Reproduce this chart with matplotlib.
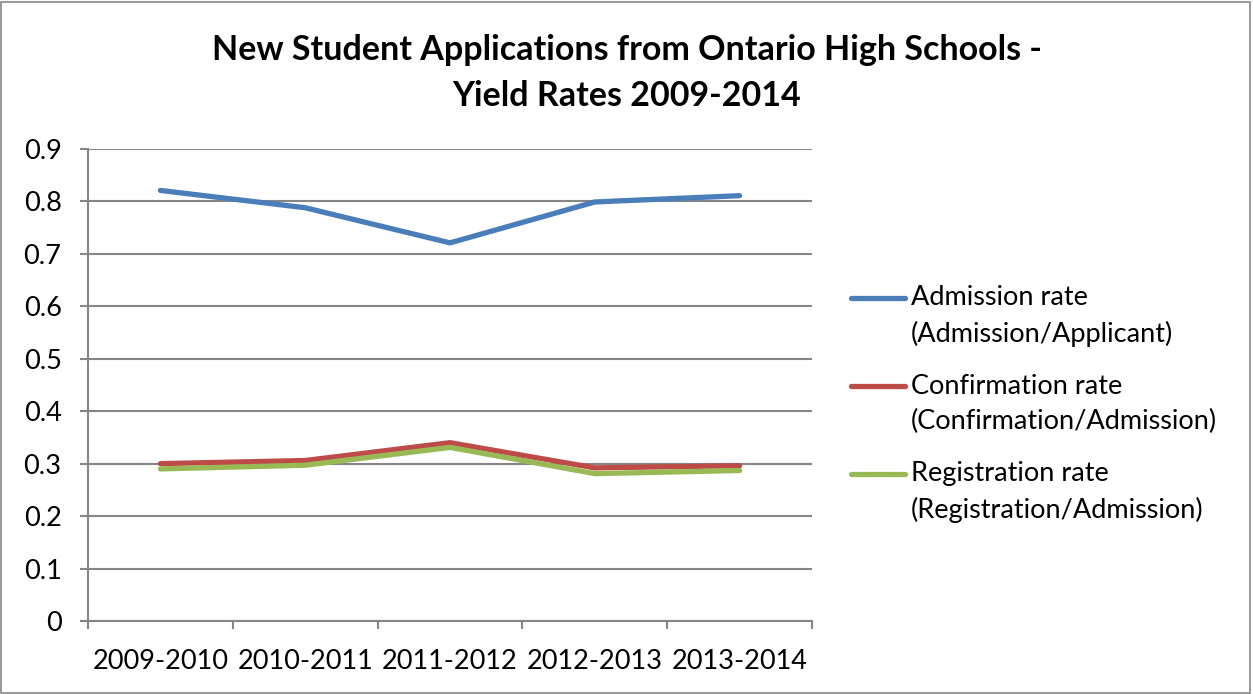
import matplotlib.pyplot as plt
from matplotlib.patches import Rectangle
from matplotlib.legend_handler import HandlerLine2D

plt.rcParams['font.family'] = ['Lato', 'DejaVu Sans']

# Données
anos = ["2009-2010", "2010-2011", "2011-2012", "2012-2013", "2013-2014"]
admission = [0.821, 0.788, 0.721, 0.799, 0.811]
confirmation = [0.300, 0.306, 0.340, 0.292, 0.296]
registration = [0.290, 0.297, 0.331, 0.281, 0.287]

nomes = ["Admission rate\n(Admission/Applicant)",
         "Confirmation rate\n(Confirmation/Admission)",
         "Registration rate\n(Registration/Admission)"]
cores = ["#4A7EBB", "#BE4B48", "#98B954"]


# linha da legenda alinhada com a primeira linha do texto
class HandlerTopo(HandlerLine2D):
    def create_artists(self, legend, orig_handle, xdescent, ydescent, width, height, fontsize, trans):
        artistas = super().create_artists(legend, orig_handle, xdescent, ydescent,
                                          width, height, fontsize, trans)
        for a in artistas:
            a.set_ydata([y + 0.68 * fontsize for y in a.get_ydata()])
        return artistas


fig = plt.figure(figsize=(12.53, 6.94), dpi=100)
ax = fig.add_axes([88 / 1253, 1 - 621 / 694, (812 - 88) / 1253, (621 - 149) / 694])

x = list(range(len(anos)))
linhas = []
for serie, nome, cor in zip([admission, confirmation, registration], nomes, cores):
    l, = ax.plot(x, serie, color=cor, linewidth=3.8, label=nome, solid_capstyle='round')
    linhas.append(l)

ax.set_xlim(-0.5, len(anos) - 0.5)
ax.set_ylim(0, 0.9)
ax.set_yticks([i / 10 for i in range(10)])
ax.set_yticklabels(["0"] + ["0.%d" % i for i in range(1, 10)], fontsize=19.5)
ax.yaxis.grid(True, color="#868686", linewidth=1.5)
ax.set_axisbelow(True)

# ticks nas fronteiras, rótulos no centro
ax.set_xticks([i - 0.5 for i in range(len(anos) + 1)])
ax.set_xticklabels([])
ax.set_xticks(x, minor=True)
ax.set_xticklabels(anos, minor=True, fontsize=19.5)
ax.tick_params(axis='x', which='minor', length=0, pad=20)
ax.tick_params(axis='x', which='major', length=6, color="#868686", width=1.5)
ax.tick_params(axis='y', length=6, color="#868686", width=1.5, pad=13)

for lado in ["top", "right"]:
    ax.spines[lado].set_visible(False)
for lado in ["left", "bottom"]:
    ax.spines[lado].set_color("#868686")
    ax.spines[lado].set_linewidth(1.5)

fig.text(0.5, 0.951, "New Student Applications from Ontario High Schools -\nYield Rates 2009-2014",
         ha='center', va='top', fontsize=24.5, fontweight='bold', linespacing=1.55)

leg = fig.legend(handles=linhas, loc='upper left', bbox_to_anchor=(851 / 1253, 1 - 285 / 694),
                 frameon=False, fontsize=19.5, handlelength=2.0, handletextpad=0.2,
                 labelspacing=1.0, borderpad=0, borderaxespad=0,
                 handler_map={l: HandlerTopo() for l in linhas})
for t in leg.get_texts():
    t.set_linespacing(1.5)

fig.patches.append(Rectangle((0.001, 0.002), 0.997, 0.995, transform=fig.transFigure,
                             fill=False, edgecolor="#868686", linewidth=1.2))

fig.savefig("out.png", dpi=100)
